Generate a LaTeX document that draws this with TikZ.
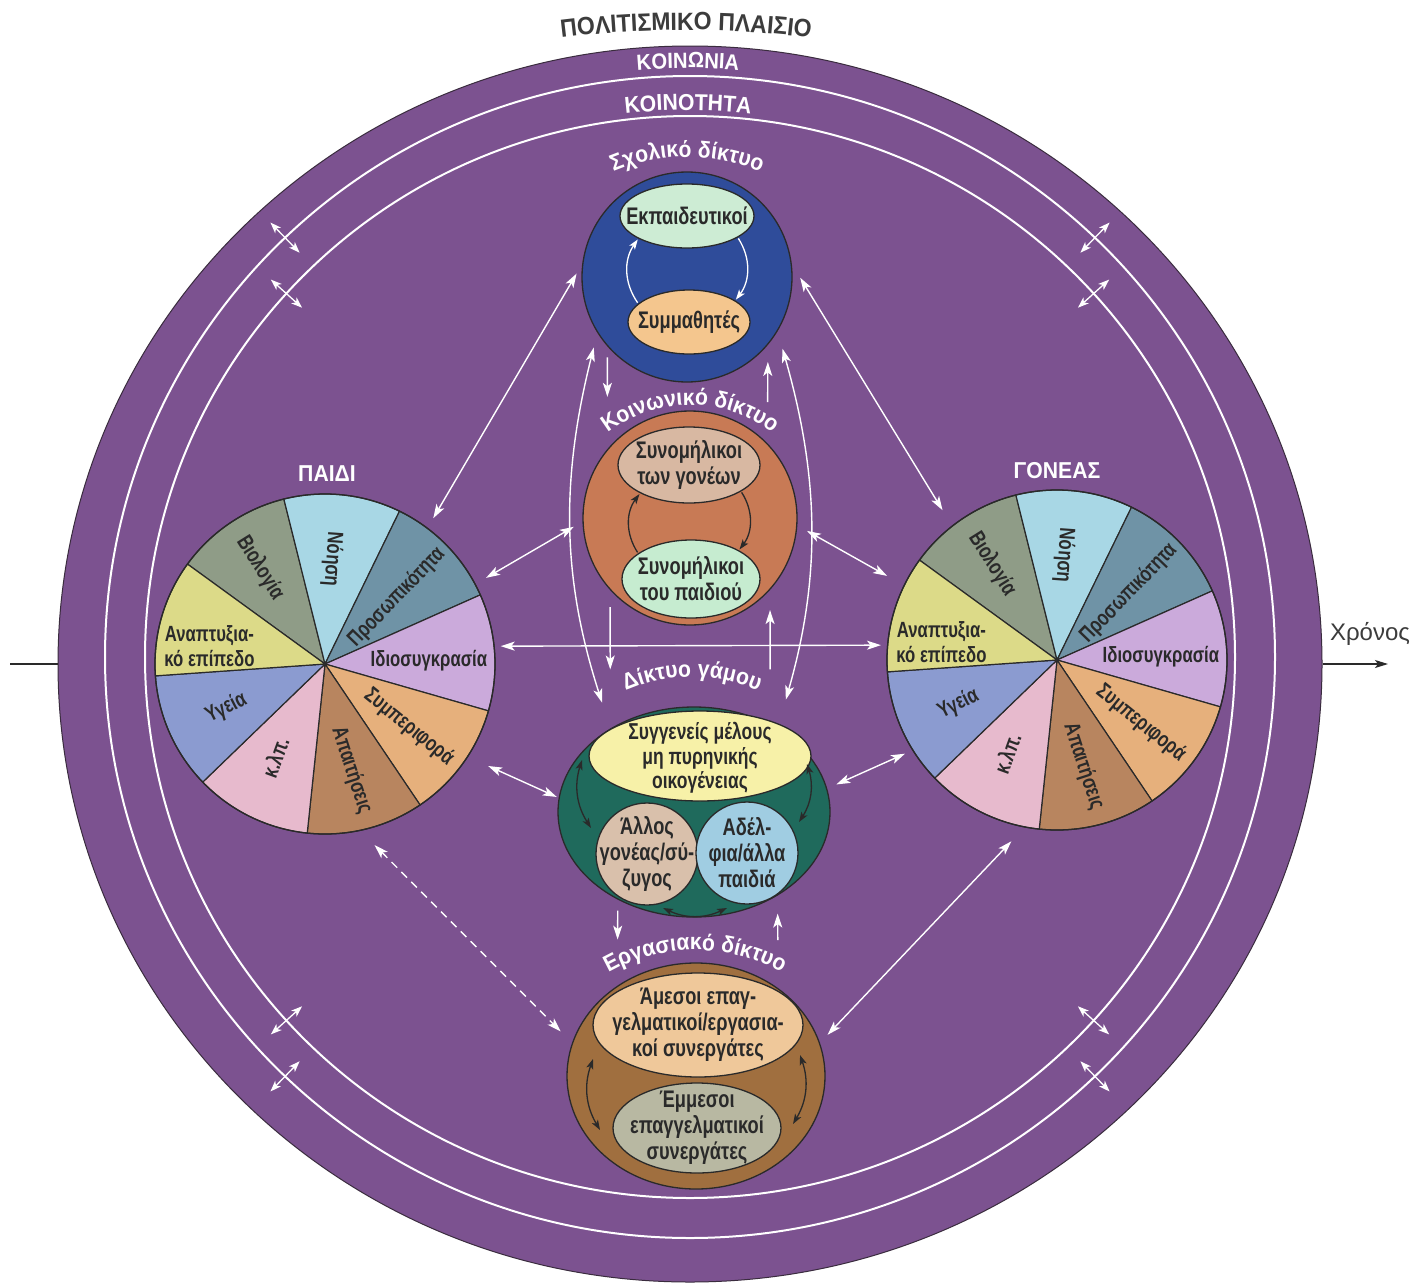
\documentclass[tikz,border=0pt]{standalone}
\usepackage{fontspec}
\setmainfont{Liberation Sans}
\newfontfamily\cfont{Liberation Sans}[FakeStretch=0.76]
\newfontfamily\lfont{Liberation Sans}[FakeStretch=0.92]
\newfontfamily\rfont{Liberation Sans}
\usetikzlibrary{shapes.geometric,arrows.meta,calc,decorations.text}
\definecolor{cPurple}{HTML}{7C5290}
\definecolor{cOutl}{HTML}{3A2C3E}
\definecolor{cDark}{HTML}{2A2A2A}
\definecolor{cTitle}{HTML}{3C3C3C}
\definecolor{cSchool}{HTML}{2F4C9A}
\definecolor{cEkp}{HTML}{CDECD4}
\definecolor{cSymm}{HTML}{F4C68E}
\definecolor{cSocial}{HTML}{C87A55}
\definecolor{cGon}{HTML}{D8B8A2}
\definecolor{cPaid}{HTML}{C6ECD0}
\definecolor{cMar}{HTML}{1F6A5C}
\definecolor{cSyg}{HTML}{F7F1A8}
\definecolor{cAllos}{HTML}{D9C0AB}
\definecolor{cAdel}{HTML}{A0CDE2}
\definecolor{cWork}{HTML}{A06F3F}
\definecolor{cAm}{HTML}{EFC89A}
\definecolor{cEm}{HTML}{B8B8A2}
\definecolor{cBio}{HTML}{8F9C87}
\definecolor{cNoe}{HTML}{A8D7E5}
\definecolor{cPros}{HTML}{6F93A6}
\definecolor{cIdio}{HTML}{CBAADB}
\definecolor{cSymp}{HTML}{E6B07C}
\definecolor{cApai}{HTML}{B8855F}
\definecolor{cKlp}{HTML}{E7BACD}
\definecolor{cYg}{HTML}{8B9BD0}
\definecolor{cAna}{HTML}{DCDA88}
\newcommand\mytxtfont{\cfont\bfseries\fontsize{24}{26}\selectfont}
\newcommand\mypiefont{\cfont\bfseries\fontsize{22}{25}\selectfont}
\newcommand\mylblfont{\lfont\bfseries\fontsize{23}{26}\selectfont}
\begin{document}
\begin{tikzpicture}[x=1pt,y=1pt,
  >={Stealth[length=14pt,width=9pt,inset=3.5pt]},
  wline/.style={draw=white, line width=1.4pt},
  wboth/.style={wline,<->},
  wone/.style={wline,->},
  ringarr/.style={draw=white, line width=1.3pt, {Stealth[length=11pt,width=8pt,inset=3pt]}-{Stealth[length=11pt,width=8pt,inset=3pt]}},
  dkarr/.style={draw=cDark, line width=1.3pt, -{Stealth[length=10pt,width=7pt,inset=2.5pt]}},
  dkboth/.style={draw=cDark, line width=1.3pt, {Stealth[length=10pt,width=7pt,inset=2.5pt]}-{Stealth[length=10pt,width=7pt,inset=2.5pt]}},
  winner/.style={draw=white, line width=1.3pt, -{Stealth[length=10pt,width=7pt,inset=2.5pt]}},
  shp/.style={draw=cDark, line width=1.3pt, inner sep=0pt},
  ell/.style={shp, ellipse},
  circ/.style={shp, circle},
  txt/.style={font=\mytxtfont, text=cDark, align=center, inner sep=0pt},
  ptxt/.style={font=\mypiefont, text=cDark, align=center, inner sep=0pt},
  wlbl/.style={font=\mylblfont, text=white, inner sep=0pt},
]
\useasboundingbox (0,0) rectangle (1422,-1283);
\fill[white] (0,0) rectangle (1422,-1283);

% outer disc
\node[ellipse, fill=cPurple, draw=cOutl, line width=1pt, minimum width=1264pt, minimum height=1236pt, inner sep=0pt] (outer) at (690,-664) {};

% time axis
\coordinate (tl) at (10,-664);
\coordinate (tr) at (1388,-664);
\draw[draw=cDark, line width=1.3pt] (tl) -- (outer.west);
\draw[draw=cDark, line width=1.3pt, -{Stealth[length=13pt,width=8pt,inset=3pt]}] (outer.east) -- (tr);
\node[font=\rfont\fontsize{24}{27}\selectfont, text=cTitle, inner sep=0pt] (chronos) at (1370,-634) {Χρόνος};

% rings
\coordinate (rc) at (690,-657);
\draw[white, line width=2pt] (rc) ellipse[x radius=585pt, y radius=581pt];
\draw[white, line width=2pt] (rc) ellipse[x radius=545pt, y radius=541pt];
\foreach \a/\ri/\ro in {134/562/604, 138/522/564, 46/562/604, 42/522/564, 226/562/604, 222/522/564, 314/562/604, 318/522/564}{
  \draw[ringarr] ($(rc)+(\a:\ri pt)$) -- ($(rc)+(\a:\ro pt)$);
}

% curved ring labels
\path[decorate, decoration={text along path, text align=center, text={|\color{cTitle}\lfont\bfseries\fontsize{25}{28}\selectfont|ΠΟΛΙΤΙΣΜΙΚΟ ΠΛΑΙΣΙΟ}}]
  ($(686,-1030)+(100:1000pt)$) arc[start angle=100, end angle=80, radius=1000pt];
\path[decorate, decoration={text along path, text align=center, text={|\color{white}\lfont\bfseries\fontsize{22}{26}\selectfont|ΚΟΙΝΩΝΙΑ}}]
  ($(688,-660)+(110:592pt)$) arc[start angle=110, end angle=70, radius=592pt];
\path[decorate, decoration={text along path, text align=center, text={|\color{white}\lfont\bfseries\fontsize{23}{26}\selectfont|ΚΟΙΝΟΤΗΤΑ}}]
  ($(688,-660)+(110:550pt)$) arc[start angle=110, end angle=70, radius=550pt];

% pies
\coordinate (cL) at (325,-664);
\coordinate (cR) at (1057,-660);
\foreach \P in {L,R}{
  \foreach \s/\c in {104/cBio,64/cNoe,24/cPros,-16/cIdio,-56/cSymp,-96/cApai,-136/cKlp,-176/cYg,144/cAna}{
    \filldraw[fill=\c, draw=cDark, line width=1.2pt, line join=round] (c\P) -- ++(\s:170pt) arc[start angle=\s, end angle={\s+40}, radius=170pt] -- cycle;
  }
  \node[circ, minimum size=340pt] (pie\P) at (c\P) {};
  \node[ptxt, rotate=-58] (\P bio) at ($(c\P)+(124:116pt)$) {Βιολογία};
  \node[ptxt, rotate=-94] (\P noe) at ($(c\P)+(86:105pt)$) {Νόηση};
  \node[ptxt, rotate=46] (\P pros) at ($(c\P)+(43:98pt)$) {Προσωπικότητα};
  \node[ptxt] (\P idio) at ($(c\P)+(2:104pt)$) {Ιδιοσυγκρασία};
  \node[ptxt, rotate=-39] (\P symp) at ($(c\P)+(-37:105pt)$) {Συμπεριφορά};
  \node[ptxt, rotate=-72] (\P apai) at ($(c\P)+(-76:110pt)$) {Απαιτήσεις};
  \node[ptxt, rotate=70] (\P klp) at ($(c\P)+(-118:106pt)$) {κ.λπ.};
  \node[ptxt, rotate=27] (\P yg) at ($(c\P)+(204:108pt)$) {Υγεία};
  \node[ptxt] (\P ana) at ($(c\P)+(171:117pt)$) {Αναπτυξια-\\κό επίπεδο};
}
\node[wlbl] (paidi) at (327,-474) {ΠΑΙΔΙ};
\node[wlbl] (goneas) at (1057,-471) {ΓΟΝΕΑΣ};

% school network
\node[circ, minimum size=210pt, fill=cSchool] (school) at (687,-277) {};
\node[ell, minimum width=134pt, minimum height=64pt, fill=cEkp] (ekp) at (687,-216) {};
\node[txt] (ekpT) at (ekp) {Εκπαιδευτικοί};
\node[ell, minimum width=122pt, minimum height=64pt, fill=cSymm] (symm) at (689,-322) {};
\node[txt] (symmT) at (symm) {Συμμαθητές};
\draw[winner, shorten <=1pt, shorten >=1pt] (symm.160) to[bend left=35] (ekp.205);
\draw[winner, shorten <=1pt, shorten >=1pt] (ekp.-23) to[bend left=35] (symm.25);
\path[decorate, decoration={text along path, text align=center, text={|\color{white}\mylblfont|Σχολικό δίκτυο}}]
  ($(687,-347)+(128:190pt)$) arc[start angle=128, end angle=52, radius=190pt];

% social network
\node[circ, minimum size=214pt, fill=cSocial] (social) at (690,-518) {};
\node[ell, minimum width=142pt, minimum height=76pt, fill=cGon] (gon) at (689,-465) {};
\node[txt] (gonT) at (gon) {Συνομήλικοι\\των γονέων};
\node[ell, minimum width=138pt, minimum height=78pt, fill=cPaid] (paid) at (691,-579) {};
\node[txt] (paidT) at (paid) {Συνομήλικοι\\του παιδιού};
\draw[dkarr, shorten <=1pt, shorten >=1pt] (paid.154) to[bend left=35] (gon.210);
\draw[dkarr, shorten <=1pt, shorten >=1pt] (gon.-27) to[bend left=35] (paid.31);
\path[decorate, decoration={text along path, text align=center, text={|\color{white}\mylblfont|Κοινωνικό δίκτυο}}]
  ($(690,-540)+(140:135pt)$) arc[start angle=140, end angle=40, radius=135pt];

% marriage network
\node[ell, minimum width=272pt, minimum height=210pt, fill=cMar] (marriage) at (694,-812) {};
\node[ell, minimum width=222pt, minimum height=90pt, fill=cSyg] (syg) at (700,-756) {};
\node[txt, font=\cfont\bfseries\fontsize{23}{24.5}\selectfont] (sygT) at ([yshift=-2pt]syg.center) {Συγγενείς μέλους\\μη πυρηνικής\\οικογένειας};
\node[circ, minimum size=102pt, fill=cAllos] (allos) at (647,-854) {};
\node[txt] (allosT) at (allos) {Άλλος\\γονέας/σύ-\\ζυγος};
\node[circ, minimum size=102pt, fill=cAdel] (adel) at (747,-853) {};
\node[txt] (adelT) at (adel) {Αδέλ-\\φια/άλλα\\παιδιά};
\coordinate (m1a) at (582,-760); \coordinate (m1b) at (591,-828);
\coordinate (m2a) at (807,-764); \coordinate (m2b) at (799,-822);
\coordinate (m3a) at (663,-908); \coordinate (m3b) at (727,-908);
\draw[dkboth] (m1a) to[bend right=25] (m1b);
\draw[dkboth] (m2a) to[bend left=25] (m2b);
\draw[dkboth] (m3a) to[bend right=25] (m3b);
\path[decorate, decoration={text along path, text align=center, text={|\color{white}\mylblfont|Δίκτυο γάμου}}]
  ($(692,-842)+(125:165pt)$) arc[start angle=125, end angle=55, radius=165pt];

% work network
\node[ell, minimum width=258pt, minimum height=226pt, fill=cWork] (work) at (696,-1076) {};
\node[ell, minimum width=210pt, minimum height=104pt, fill=cAm] (amesoi) at (698,-1025) {};
\node[txt] (amesoiT) at (amesoi) {Άμεσοι επαγ-\\γελματικοί/εργασια-\\κοί συνεργάτες};
\node[ell, minimum width=168pt, minimum height=90pt, fill=cEm] (emmesoi) at (697,-1128) {};
\node[txt] (emmesoiT) at (emmesoi) {Έμμεσοι\\επαγγελματικοί\\συνεργάτες};
\coordinate (w1a) at (593,-1059); \coordinate (w1b) at (600,-1130);
\coordinate (w2a) at (800,-1055); \coordinate (w2b) at (793,-1124);
\draw[dkboth] (w1a) to[bend right=25] (w1b);
\draw[dkboth] (w2a) to[bend left=25] (w2b);
\path[decorate, decoration={text along path, text align=center, text={|\color{white}\mylblfont|Εργασιακό δίκτυο}}]
  ($(695,-1126)+(130:176pt)$) arc[start angle=130, end angle=50, radius=176pt];

% connectors
\draw[wboth, shorten <=11pt, shorten >=11pt] (pieL.53) -- (school.173);
\draw[wboth, shorten <=15pt, shorten >=27pt] (school.212) to[bend right=16] (marriage.135);
\draw[wboth, shorten <=18pt, shorten >=30pt] (school.-31) to[bend left=16] (marriage.45);
\draw[wboth, shorten <=16pt, shorten >=18pt] (school.7) -- (pieR.128);
\draw[wone, shorten <=11pt, shorten >=52pt] (school.221) -- (social.140);
\draw[wone, shorten <=41pt, shorten >=17pt] (social.44) -- (school.-40);
\draw[wone, shorten <=17pt, shorten >=59pt] (social.222) -- (marriage.135);
\draw[wone, shorten <=55pt, shorten >=20pt] (marriage.49) -- (social.-42);
\draw[wone, shorten <=11pt, shorten >=46pt] (marriage.229) -- (work.131);
\draw[wone, shorten <=48pt, shorten >=18pt] (work.47) -- (marriage.-45);
\draw[wboth, shorten <=6pt, shorten >=6pt] (pieL.6) -- (pieR.175);
\draw[wboth, shorten <=12pt, shorten >=10pt] (pieL.28) -- (social.182);
\draw[wboth, shorten <=11pt, shorten >=19pt] (social.-4) -- (pieR.154);
\draw[wboth, shorten <=22pt, shorten >=2pt] (pieL.-33) -- (marriage.174);
\draw[wboth, shorten <=10pt, shorten >=8pt] (marriage.10) -- (pieR.212);
\draw[wboth, dash pattern=on 8pt off 6pt, shorten <=20pt, shorten >=16pt] (pieL.-78) -- (work.165);
\draw[wboth, shorten <=19pt, shorten >=11pt] (pieR.259) -- (work.15);
\end{tikzpicture}
\end{document}
